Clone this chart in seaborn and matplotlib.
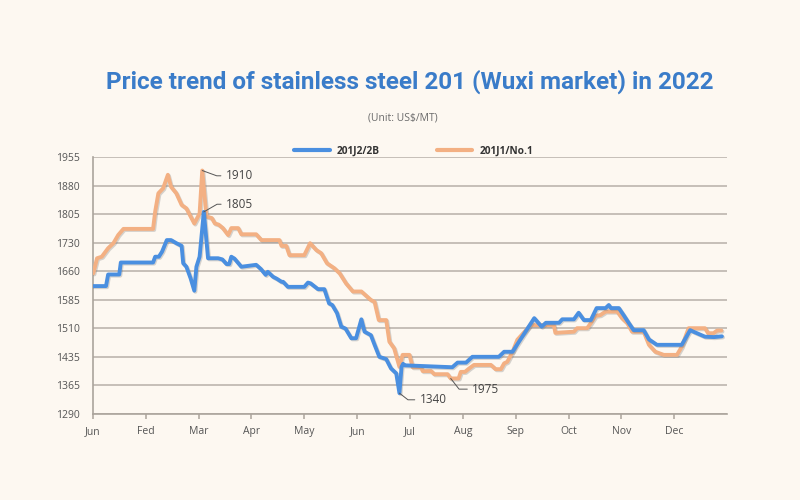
import matplotlib
matplotlib.use("Agg")
import matplotlib.pyplot as plt
import matplotlib.patheffects as pe
from matplotlib.lines import Line2D
import numpy as np
import pandas as pd
import seaborn as sns

#%% data (x = months since start of year)
month_labels = ['Jun', 'Fed', 'Mar', 'Apr', 'May', 'Jun', 'Jul', 'Aug', 'Sep', 'Oct', 'Nov', 'Dec']
y_tick_labels = ['1290', '1365', '1435', '1510', '1585', '1660', '1730', '1805', '1880', '1955']

j2_month = [0, 0.25, 0.29, 0.50, 0.53, 1.14, 1.18, 1.25, 1.31, 1.40, 1.48, 1.58, 1.68, 1.71, 1.77,
            1.85, 1.92, 1.96, 2.02, 2.10, 2.18, 2.37, 2.45, 2.53, 2.58, 2.62, 2.68, 2.81, 3.09, 3.18,
            3.27, 3.31, 3.41, 3.48, 3.57, 3.60, 3.69, 4.00, 4.07, 4.12, 4.26, 4.38, 4.47, 4.53, 4.62,
            4.70, 4.78, 4.89, 4.98, 5.08, 5.14, 5.26, 5.33, 5.42, 5.55, 5.64, 5.74, 5.80, 5.84, 5.87,
            5.89, 6.80, 6.90, 7.06, 7.18, 7.68, 7.78, 7.94, 8.00, 8.35, 8.49, 8.57, 8.82, 8.88, 9.10,
            9.19, 9.29, 9.42, 9.53, 9.70, 9.76, 9.80, 9.95, 10.04, 10.14, 10.23, 10.42, 10.52, 10.67,
            11.14, 11.30, 11.36, 11.58, 11.75, 11.90]
j2_price = [1621, 1621, 1651, 1651, 1682, 1682, 1697, 1697, 1710, 1740, 1740, 1732, 1725, 1680, 1671,
            1641, 1609, 1671, 1697, 1813, 1693, 1693, 1690, 1678, 1678, 1697, 1692, 1671, 1676, 1665,
            1650, 1658, 1645, 1640, 1632, 1632, 1619, 1619, 1630, 1628, 1613, 1613, 1576, 1572, 1551,
            1516, 1511, 1486, 1486, 1535, 1503, 1494, 1469, 1438, 1432, 1408, 1395, 1344, 1412, 1420,
            1416, 1411, 1423, 1423, 1438, 1438, 1451, 1451, 1464, 1538, 1516, 1526, 1526, 1535, 1535,
            1552, 1533, 1533, 1564, 1564, 1572, 1564, 1564, 1546, 1525, 1507, 1507, 1483, 1469,
            1469, 1507, 1503, 1490, 1489, 1491]

j1_month = [0.01, 0.08, 0.17, 0.29, 0.39, 0.48, 0.58, 1.14, 1.18, 1.24, 1.33, 1.42, 1.48, 1.58, 1.68,
            1.77, 1.92, 2.02, 2.07, 2.15, 2.25, 2.31, 2.38, 2.46, 2.56, 2.62, 2.75, 2.81, 3.09, 3.19,
            3.53, 3.57, 3.66, 3.72, 4.00, 4.11, 4.23, 4.32, 4.43, 4.57, 4.67, 4.79, 4.92, 5.08, 5.26,
            5.33, 5.41, 5.55, 5.61, 5.70, 5.80, 5.86, 5.99, 6.05, 6.21, 6.24, 6.40, 6.46, 6.71, 6.77,
            6.92, 6.96, 7.04, 7.12, 7.21, 7.53, 7.62, 7.72, 7.78, 7.84, 7.94, 8.03, 8.28, 8.72, 8.75,
            9.10, 9.16, 9.35, 9.42, 9.51, 9.60, 9.70, 9.92, 10.01, 10.11, 10.20, 10.42, 10.52, 10.64,
            10.80, 11.05, 11.14, 11.27, 11.58, 11.64, 11.74, 11.81, 11.89]
j1_price = [1654, 1693, 1697, 1719, 1732, 1753, 1769, 1769, 1814, 1861, 1874, 1909, 1878, 1861, 1831,
            1822, 1783, 1809, 1920, 1801, 1797, 1783, 1780, 1771, 1753, 1771, 1771, 1755, 1755, 1740,
            1740, 1725, 1725, 1701, 1701, 1732, 1714, 1706, 1680, 1667, 1654, 1628, 1607, 1607, 1585,
            1580, 1533, 1533, 1477, 1460, 1412, 1443, 1443, 1411, 1411, 1401, 1401, 1393, 1393, 1382,
            1382, 1399, 1399, 1408, 1417, 1417, 1406, 1406, 1421, 1425, 1451, 1482, 1520, 1520, 1500,
            1503, 1512, 1512, 1525, 1544, 1546, 1555, 1555, 1538, 1525, 1503, 1503, 1469, 1451,
            1443, 1443, 1464, 1512, 1512, 1499, 1499, 1506, 1506]

#%% style
bg = '#FDF8F1'
blue = '#4A8FE0'
orange = '#F3B083'
sns.set_style('white', {'axes.facecolor': bg, 'figure.facecolor': bg})
plt.rcParams['font.family'] = ['Open Sans', 'DejaVu Sans']

fig = plt.figure(figsize=(8, 5), dpi=100)
ax = fig.add_axes([0.116, 0.172, 0.793, 0.514])

shadow = [pe.SimpleLineShadow(offset=(0.8, -0.8), shadow_color='#777777', alpha=0.3), pe.Normal()]
df_j2 = pd.DataFrame({'month': j2_month, 'price': j2_price})
df_j1 = pd.DataFrame({'month': j1_month, 'price': j1_price})
sns.lineplot(data=df_j2, x='month', y='price', ax=ax, color=blue, lw=2.8, legend=False,
             path_effects=shadow, zorder=4)
sns.lineplot(data=df_j1, x='month', y='price', ax=ax, color=orange, lw=2.8, legend=False,
             path_effects=shadow, zorder=3)

#%% axes
ax.set_xlim(0, 12)
ax.set_ylim(1290, 1955)
ax.set_yticks(np.linspace(1290, 1955, len(y_tick_labels)))
ax.set_yticklabels(y_tick_labels)
ax.set_xticks(range(len(month_labels)))
ax.set_xticklabels(month_labels)
ax.set_xlabel('')
ax.set_ylabel('')
ax.yaxis.grid(True, color='#B7B0A8', lw=1.1)
ax.xaxis.grid(False)
for s in ['top', 'right']:
    ax.spines[s].set_visible(False)
for s in ['left', 'bottom']:
    ax.spines[s].set_color('#ABA49C')
    ax.spines[s].set_linewidth(1.2)
ax.tick_params(axis='y', length=3, width=1.1, color='#B7B0A8', pad=6.5, labelsize=7.5, labelcolor='#555555')
ax.tick_params(axis='x', length=3.5, width=1.1, color='#ABA49C', pad=5, labelsize=7.5, labelcolor='#555555',
               bottom=True)

#%% annotations
def note(idx, xs, ys, label, off, angle):
    ax.annotate(label, xy=(xs[idx], ys[idx]), xytext=off, textcoords='offset points',
                ha='left', va='center', fontsize=8.5, color='#444444', zorder=6,
                arrowprops=dict(arrowstyle='-', color='#555555', lw=0.7, shrinkA=1, shrinkB=0,
                                connectionstyle='angle,angleA=0,angleB=%d' % angle))

note(int(np.argmax(j1_price)), j1_month, j1_price, '1910', (16.8, -3.8), -20)
note(int(np.argmax(j2_price)), j2_month, j2_price, '1805', (15.8, 5.5), 30)
note(int(np.argmin(j2_price)), j2_month, j2_price, '1340', (14.4, -4.8), -38)
note(int(np.argmin(j1_price)), j1_month, j1_price, '1975', (15.3, -7.7), -52)

#%% title, unit, legend
fig.text(0.5125, 0.836, 'Price trend of stainless steel 201 (Wuxi market) in 2022', ha='center',
         va='center', fontsize=17.5, fontweight='bold', color='#3A7CC9', family=['Roboto', 'DejaVu Sans'])
fig.text(0.503, 0.765, r'(Unit: US\$/MT)', ha='center', va='center', fontsize=7.5, color='#6B6B6B')
handles = [Line2D([], [], color=blue, lw=3), Line2D([], [], color=orange, lw=3)]
leg = fig.legend(handles, ['201J2/2B', '201J1/No.1'], loc='center', bbox_to_anchor=(0.517, 0.698),
                 ncol=2, frameon=False, handlelength=3.5, handletextpad=0.7, columnspacing=5.6,
                 prop={'size': 7.3, 'weight': 'bold'})
for t in leg.get_texts():
    t.set_color('#333333')

fig.savefig('out.png', dpi=100, facecolor=bg)
